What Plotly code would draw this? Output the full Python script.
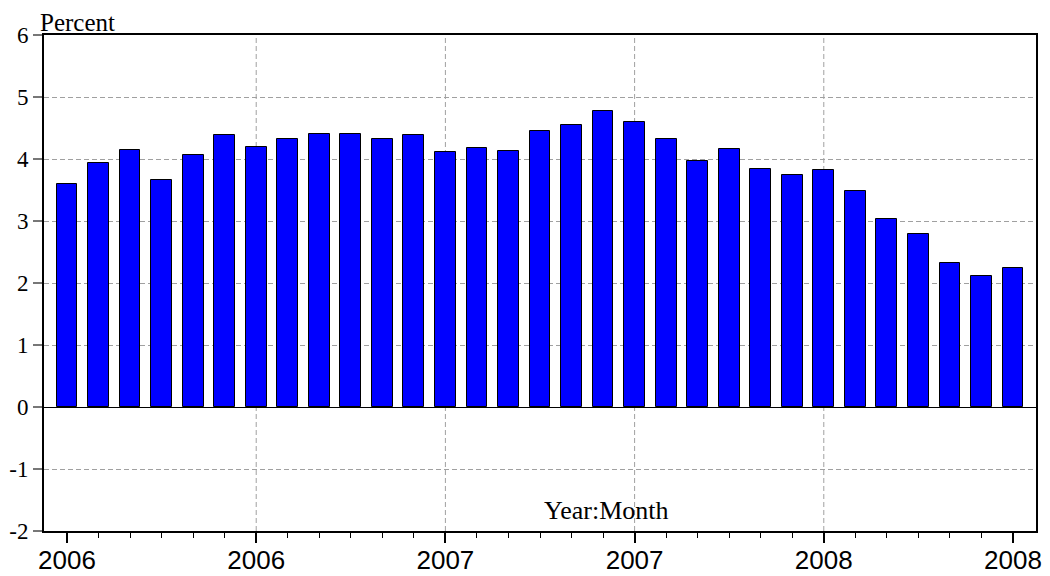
import plotly.graph_objects as go

# monthly observations, 2006M01 .. 2008M07
months = [f"{y}M{m:02d}" for y in (2006, 2007, 2008) for m in range(1, 13)][:31]
values = [3.59, 3.94, 4.14, 3.66, 4.06, 4.38, 4.19, 4.33, 4.41, 4.41, 4.33,
          4.38, 4.12, 4.18, 4.13, 4.45, 4.55, 4.77, 4.60, 4.33, 3.97, 4.16,
          3.84, 3.75, 3.82, 3.48, 3.03, 2.79, 2.32, 2.11, 2.25]
tick_pos = [0, 6, 12, 18, 24, 30]
tick_labels = ['2006', '2006', '2007', '2007', '2008', '2008']
y_ticks = [-2, -1, 0, 1, 2, 3, 4, 5, 6]
y_labels = ['-2', '-1', '0', '1', '2', '3', '4', '5', '6']

serif = 'Liberation Serif, Times New Roman, serif'
sans = 'Liberation Sans, Arial, sans-serif'
grid_dash = '5px,3px'
grid_color = '#a0a0a0'

x = list(range(len(values)))

fig = go.Figure()
fig.add_trace(go.Bar(x=x, y=values, width=0.66, hovertext=months, hoverinfo='text+y',
                     marker=dict(color='#0000FF', line=dict(color='black', width=1))))

# vertical grid only at the inner year ticks
for p in tick_pos[1:-1]:
    fig.add_shape(type='line', xref='x', yref='paper', x0=p, x1=p, y0=0, y1=1,
                  line=dict(color=grid_color, width=1, dash=grid_dash), layer='below')

# unit label sits in the top margin, kept inside the paper
fig.add_annotation(text='Percent', xref='paper', yref='paper', x=-0.005, y=1.0,
                   xanchor='left', yanchor='top', yshift=27, borderpad=0, showarrow=False,
                   font=dict(family=serif, size=25, color='black'))
fig.add_annotation(text='Year:Month', xref='paper', yref='paper', x=0.5665, y=0.042,
                   xanchor='center', yanchor='middle', showarrow=False,
                   font=dict(family=serif, size=26, color='black'))

# page body adds an 8px offset, so the paper is 8px smaller each way
fig.update_layout(
    width=1042, height=568,
    plot_bgcolor='white', paper_bgcolor='white',
    margin=dict(l=36, r=14, t=27, b=45),
    showlegend=False, bargap=0,
    xaxis=dict(range=[-0.73, 30.73], tickmode='array', tickvals=tick_pos, ticktext=tick_labels,
               ticks='outside', ticklen=10, tickwidth=1.5, tickcolor='black',
               ticklabelstandoff=-5,
               showgrid=False, zeroline=False, automargin=False,
               showline=True, linecolor='black', linewidth=2, mirror=True,
               tickfont=dict(family=sans, size=26, color='black'),
               minor=dict(tickmode='array', tickvals=x, ticks='outside', ticklen=5,
                          tickwidth=1.2, tickcolor='black', showgrid=False)),
    yaxis=dict(range=[-2, 6], tickmode='array', tickvals=y_ticks, ticktext=y_labels,
               ticks='outside', ticklen=9, tickwidth=1.5, tickcolor='#777777',
               showgrid=True, gridcolor=grid_color, gridwidth=1, griddash=grid_dash,
               zeroline=True, zerolinecolor='black', zerolinewidth=1, automargin=False,
               showline=True, linecolor='black', linewidth=2, mirror=True,
               tickfont=dict(family=serif, size=23, color='black')),
)

fig.write_html("out.html")
